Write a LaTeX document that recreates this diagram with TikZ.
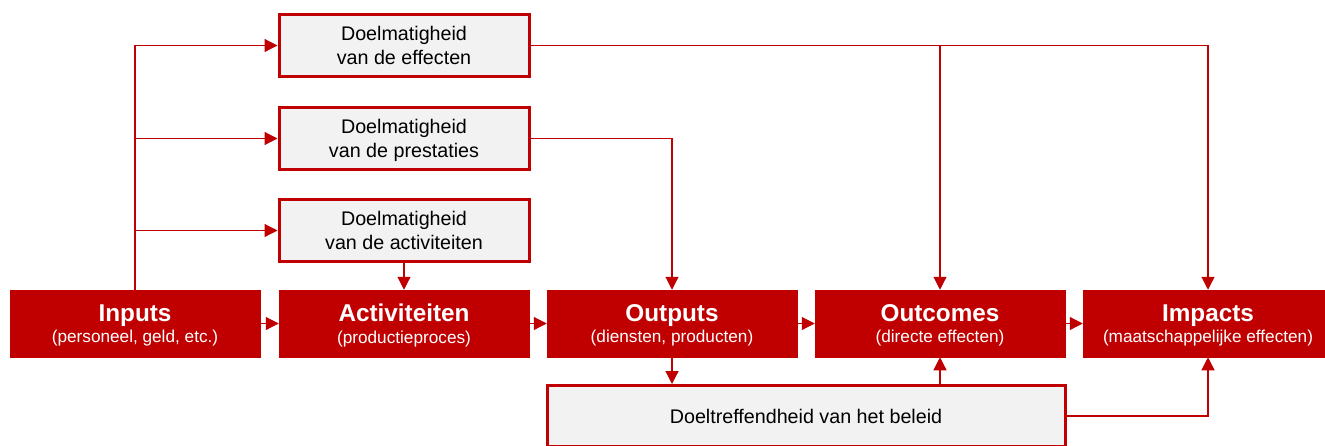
\documentclass[tikz,border=0pt]{standalone}
\usepackage{fontspec}
\setmainfont{Liberation Sans}
\usetikzlibrary{arrows.meta}
\definecolor{dred}{HTML}{C00000}
\definecolor{lgrey}{HTML}{F2F2F2}
\newcommand{\ttlfont}{\fontsize{24.3}{21.6}\selectfont\bfseries}
\begin{document}
\begin{tikzpicture}[x=1pt,y=-1pt,
  mainbox/.style={fill=dred, draw=dred, line width=0.5pt, minimum width=250pt, minimum height=67pt, inner sep=0pt, text=white, align=center, text depth=0pt, font=\fontsize{17.2}{21.6}\selectfont},
  evalbox/.style={fill=lgrey, draw=dred, line width=3pt, minimum width=250pt, minimum height=62pt, inner sep=0pt, align=center, text=black, text depth=0pt, font=\fontsize{19.7}{23.3}\selectfont},
  conn/.style={draw=dred, line width=1.2pt, -{Triangle[length=13pt,width=13pt]}}]
\useasboundingbox (0,0) rectangle (1325,445);
% main chain
\node[mainbox] (in)  at (135,323.5)  {{\ttlfont Inputs}\\(personeel, geld, etc.)};
\node[mainbox] (act) at (404,323.5)  {{\ttlfont Activiteiten}\\(productieproces)};
\node[mainbox] (out) at (672,323.5)  {{\ttlfont Outputs}\\(diensten, producten)};
\node[mainbox] (oc)  at (940,323.5)  {{\ttlfont Outcomes}\\(directe effecten)};
\node[mainbox] (imp) at (1208,323.5) {{\ttlfont Impacts}\\(maatschappelijke effecten)};
% evaluation boxes
\node[evalbox] (e1) at (404,45.5)  {Doelmatigheid\\van de effecten};
\node[evalbox] (e2) at (404,138.5) {Doelmatigheid\\van de prestaties};
\node[evalbox] (e3) at (404,230.5) {Doelmatigheid\\van de activiteiten};
\node[evalbox, minimum width=518pt, minimum height=61pt] (dt) at (806,416) {Doeltreffendheid van het beleid};
% connectors
\draw[conn] (in.north) |- (e1.west);
\draw[conn] (in.north) |- (e2.west);
\draw[conn] (in.north) |- (e3.west);
\draw[conn] (e3.south) -- (act.north);
\draw[conn] (e2.east) -| (out.north);
\draw[conn] (e1.east) -| (oc.north);
\draw[conn] (e1.east) -| (imp.north);
\draw[conn] (in.east) -- (act.west);
\draw[conn] (act.east) -- (out.west);
\draw[conn] (out.east) -- (oc.west);
\draw[conn] (oc.east) -- (imp.west);
\draw[conn] (out.south) -- (out.south |- dt.north);
\draw[conn] (dt.north -| oc.south) -- (oc.south);
\draw[conn] (dt.east) -| (imp.south);
\end{tikzpicture}
\end{document}
